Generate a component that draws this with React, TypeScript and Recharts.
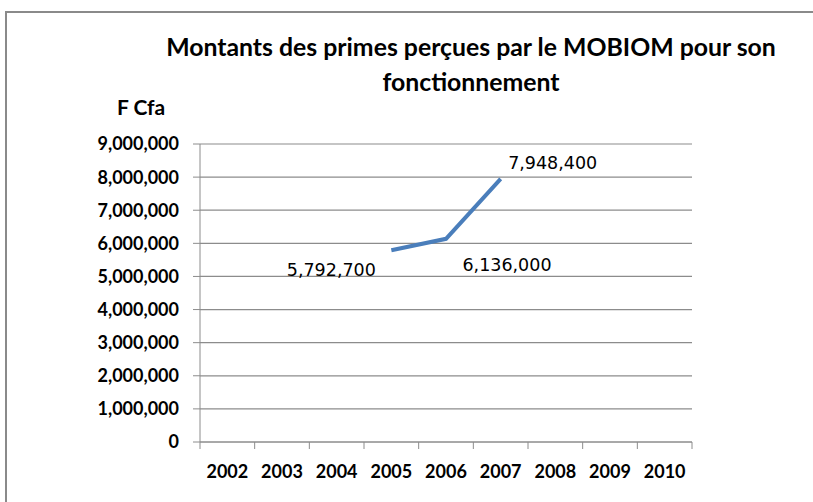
import { LineChart, Line, XAxis, YAxis, CartesianGrid, LabelList } from 'recharts'

const years = ['2002', '2003', '2004', '2005', '2006', '2007', '2008', '2009', '2010']
const primes: (number | null)[] = [null, null, null, 5792700, 6136000, 7948400, null, null, null]
const yTicks = [0, 1000000, 2000000, 3000000, 4000000, 5000000, 6000000, 7000000, 8000000, 9000000]

const data = years.map((y, i) => ({ year: y, value: primes[i] }))

const fmt = (v: number) => v.toLocaleString('en-US')
const GRID = '#8c8c8c'
const BAND = 492 / 9

// Excel-style manual label placement
const labelOffsets: Record<number, [number, number]> = {
  3: [-60, 26],
  4: [61, 32],
  5: [52, -10],
}

function ValueLabel(props: any) {
  const { x, y, value, index } = props
  if (value == null) return null
  const [dx, dy] = labelOffsets[index] ?? [0, -10]
  return (
    <text
      x={x + dx}
      y={y + dy}
      textAnchor="middle"
      fontFamily="DejaVu Sans"
      fontSize={17.5}
      fill="#000"
    >
      {fmt(value)}
    </text>
  )
}

function XTick(props: any) {
  const { x, y, payload, index } = props
  const last = index === years.length - 1
  return (
    <g>
      <line x1={x - BAND / 2} y1={y - 8} x2={x - BAND / 2} y2={y - 1} stroke={GRID} />
      {last && <line x1={x + BAND / 2} y1={y - 8} x2={x + BAND / 2} y2={y - 1} stroke={GRID} />}
      <text x={x} y={y + 28} textAnchor="middle" fontFamily="Lato" fontWeight="bold" fontSize={18} fill="#000">
        {payload.value}
      </text>
    </g>
  )
}

export default function App() {
  return (
    <div style={{ position: 'absolute', left: 0, top: 0, width: 813, height: 502, background: '#fff', overflow: 'hidden' }}>
      <div style={{ position: 'absolute', left: 5, top: 11, width: 830, height: 520, border: '2px solid #8a8a8a' }} />
      <div
        style={{
          position: 'absolute',
          left: 120,
          width: 702,
          top: 29,
          textAlign: 'center',
          fontFamily: 'Lato',
          fontWeight: 'bold',
          fontSize: 24.8,
          lineHeight: '35px',
          color: '#000',
        }}
      >
        Montants des primes perçues par le MOBIOM pour son
        <br />
        fonctionnement
      </div>
      <div style={{ position: 'absolute', left: 117, top: 94, fontFamily: 'Lato', fontWeight: 'bold', fontSize: 21, color: '#000' }}>
        F Cfa
      </div>
      <div style={{ position: 'absolute', left: 0, top: 0 }}>
        <LineChart width={813} height={502} data={data} margin={{ top: 144, right: 121, left: 140, bottom: 30 }}>
          <CartesianGrid vertical={false} stroke={GRID} strokeWidth={1.2} />
          <XAxis
            dataKey="year"
            padding={{ left: BAND / 2, right: BAND / 2 }}
            stroke={GRID}
            tickLine={false}
            tick={<XTick />}
            interval={0}
          />
          <YAxis
            width={60}
            domain={[0, 9000000]}
            ticks={yTicks}
            interval={0}
            stroke={GRID}
            tickSize={7}
            tickMargin={14}
            tickFormatter={fmt}
            tick={{ fill: '#000', fontFamily: 'Lato', fontWeight: 'bold', fontSize: 18 }}
          />
          <Line
            type="linear"
            dataKey="value"
            stroke="#4a7ebb"
            strokeWidth={4}
            dot={false}
            isAnimationActive={false}
          >
            <LabelList dataKey="value" content={<ValueLabel />} />
          </Line>
        </LineChart>
      </div>
    </div>
  )
}
